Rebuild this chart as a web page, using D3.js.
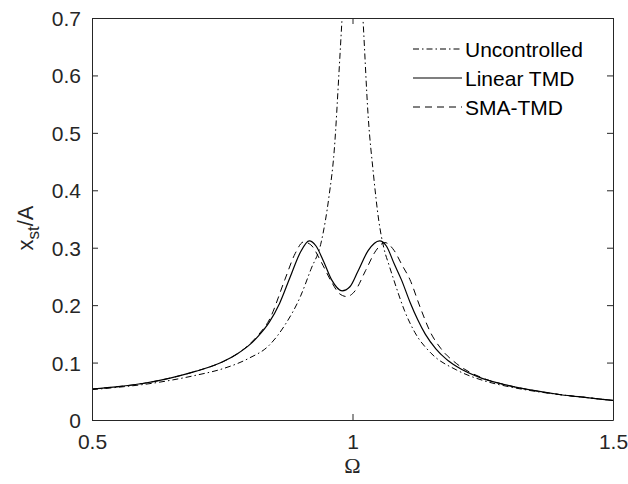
<!DOCTYPE html>
<html>
<head>
<meta charset="utf-8">
<script src="https://cdn.jsdelivr.net/npm/d3@7"></script>
<style>
  body { margin: 0; background: #fff; }
  svg { display: block; font-family: "Liberation Sans", Arial, sans-serif; }
</style>
</head>
<body>
<div id="graph"></div>
<script>
// frequency response
var omegaUnc = [0.5, 0.55, 0.6, 0.65, 0.7, 0.75, 0.8, 0.84, 0.87, 0.9, 0.92, 0.94, 0.955, 0.965, 0.975, 0.98, 0.99, 1.0, 1.01, 1.02, 1.03, 1.04, 1.05, 1.06, 1.07, 1.08, 1.1, 1.12, 1.15, 1.2, 1.25, 1.3, 1.35, 1.4, 1.45, 1.5];
var uncontrolled = [0.053, 0.057, 0.062, 0.069, 0.078, 0.089, 0.107, 0.130, 0.165, 0.215, 0.262, 0.310, 0.390, 0.470, 0.620, 0.700, 0.850, 0.950, 0.850, 0.700, 0.530, 0.430, 0.350, 0.300, 0.270, 0.242, 0.190, 0.152, 0.117, 0.087, 0.069, 0.058, 0.050, 0.044, 0.039, 0.034];

var omegaLin = [0.5, 0.55, 0.6, 0.65, 0.7, 0.75, 0.78, 0.8, 0.82, 0.84, 0.86, 0.88, 0.9, 0.917, 0.93, 0.945, 0.96, 0.98, 0.995, 1.01, 1.03, 1.052, 1.065, 1.08, 1.094, 1.11, 1.125, 1.14, 1.16, 1.18, 1.2, 1.25, 1.3, 1.35, 1.4, 1.45, 1.5];
var linearTmd = [0.054, 0.058, 0.064, 0.073, 0.085, 0.101, 0.116, 0.129, 0.147, 0.170, 0.203, 0.248, 0.292, 0.312, 0.303, 0.275, 0.244, 0.225, 0.232, 0.258, 0.295, 0.312, 0.303, 0.272, 0.244, 0.206, 0.175, 0.149, 0.124, 0.106, 0.093, 0.072, 0.060, 0.051, 0.044, 0.039, 0.034];

var omegaSma = [0.5, 0.55, 0.6, 0.65, 0.7, 0.75, 0.78, 0.8, 0.82, 0.84, 0.87, 0.89, 0.906, 0.92, 0.94, 0.96, 0.975, 0.989, 1.005, 1.025, 1.045, 1.062, 1.08, 1.095, 1.11, 1.13, 1.15, 1.17, 1.2, 1.25, 1.3, 1.35, 1.4, 1.45, 1.5];
var smaTmd = [0.054, 0.058, 0.064, 0.073, 0.085, 0.101, 0.116, 0.130, 0.149, 0.174, 0.244, 0.290, 0.310, 0.305, 0.275, 0.240, 0.220, 0.215, 0.225, 0.260, 0.295, 0.309, 0.295, 0.270, 0.245, 0.196, 0.152, 0.124, 0.098, 0.073, 0.060, 0.051, 0.044, 0.039, 0.034];

var xTicks = [0.5, 1, 1.5];
var yTicks = [0, 0.1, 0.2, 0.3, 0.4, 0.5, 0.6, 0.7];
var legendLabels = ["Uncontrolled", "Linear TMD", "SMA-TMD"];

var svgWidth = 628, svgHeight = 484;
var margin = {top: 18, right: 15, bottom: 64, left: 92};
var width = svgWidth - margin.left - margin.right;
var height = svgHeight - margin.top - margin.bottom;
var axisColor = "#262626";

var dashes = ["6,3,1.5,3", null, "7,5"];

var svg = d3.select('#graph').append('svg')
  .attr("width", svgWidth)
  .attr("height", svgHeight);

var g = svg.append('g')
  .attr('transform', 'translate(' + margin.left + ',' + margin.top + ')');

var x = d3.scaleLinear().domain([0.5, 1.5]).range([0, width]);
var y = d3.scaleLinear().domain([0, 0.7]).range([height, 0]);

svg.append("clipPath").attr("id", "plot-clip")
  .append("rect")
  .attr("x", 0).attr("y", 0)
  .attr("width", width).attr("height", height);

var line = d3.line()
  .x(function(d) { return x(d[0]); })
  .y(function(d) { return y(d[1]); })
  .curve(d3.curveMonotoneX);

var series = [
  d3.zip(omegaUnc, uncontrolled),
  d3.zip(omegaLin, linearTmd),
  d3.zip(omegaSma, smaTmd)
];

var curves = g.append("g").attr("clip-path", "url(#plot-clip)");
series.forEach(function(s, i) {
  curves.append("path")
    .datum(s)
    .attr("fill", "none")
    .attr("stroke", "#000")
    .attr("stroke-width", i == 1 ? 1.2 : 1)
    .attr("stroke-dasharray", dashes[i])
    .attr("d", line);
});

// axes, matlab style: ticks inside, box all round
var tickLen = 6;
var axBottom = g.append("g")
  .attr("transform", "translate(0," + height + ")")
  .call(d3.axisBottom(x).tickValues(xTicks).tickSizeInner(-tickLen).tickSizeOuter(0).tickPadding(14).tickFormat(d3.format("")));
var axLeft = g.append("g")
  .call(d3.axisLeft(y).tickValues(yTicks).tickSizeInner(-tickLen).tickSizeOuter(0).tickPadding(11).tickFormat(function(d) { return d === 0 ? "0" : d3.format(".1f")(d); }));
var axTop = g.append("g")
  .call(d3.axisTop(x).tickValues(xTicks).tickSizeInner(-tickLen).tickSizeOuter(0).tickFormat(""));
var axRight = g.append("g")
  .attr("transform", "translate(" + width + ",0)")
  .call(d3.axisRight(y).tickValues(yTicks).tickSizeInner(-tickLen).tickSizeOuter(0).tickFormat(""));

[axBottom, axLeft, axTop, axRight].forEach(function(a) {
  a.selectAll("path, line").attr("stroke", axisColor);
  a.selectAll("text")
    .attr("fill", axisColor)
    .style("font-size", "21px")
    .style("font-family", "'Liberation Sans', Arial, sans-serif");
});
axLeft.selectAll("text").attr("dy", "0.36em");

// axis labels
svg.append("text")
  .attr("x", margin.left + x(1))
  .attr("y", 473)
  .attr("text-anchor", "middle")
  .attr("fill", axisColor)
  .style("font-family", "'Liberation Serif', 'DejaVu Serif', serif")
  .style("font-size", "22px")
  .text("Ω");

var ylab = svg.append("text")
  .attr("transform", "translate(33,228) rotate(-90)")
  .attr("text-anchor", "middle")
  .attr("fill", axisColor)
  .style("font-size", "22px");
ylab.append("tspan").text("x");
ylab.append("tspan").attr("dy", 6).style("font-size", "17px").text("st");
ylab.append("tspan").attr("dy", -6).text("/A");

// legend
var legend = g.append("g").attr("class", "legend");
legendLabels.forEach(function(lab, i) {
  var ly = 31 + i * 29;
  legend.append("line")
    .attr("x1", 321).attr("x2", 370)
    .attr("y1", ly).attr("y2", ly)
    .attr("stroke", "#000")
    .attr("stroke-width", i == 1 ? 1.2 : 1)
    .attr("stroke-dasharray", dashes[i]);
  legend.append("text")
    .attr("x", 373).attr("y", ly)
    .attr("dy", "0.36em")
    .attr("fill", "#000")
    .style("font-size", "21px")
    .text(lab);
});
</script>
</body>
</html>
